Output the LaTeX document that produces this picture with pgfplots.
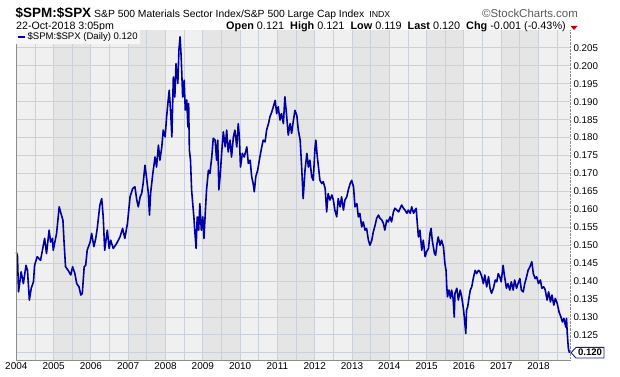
\documentclass[border=0pt]{standalone}
\usepackage{fontspec}
\setmainfont{Liberation Sans}
\usepackage{pgfplots}
\pgfplotsset{compat=1.18}
\definecolor{bgA}{HTML}{F0F0F0}
\definecolor{bgB}{HTML}{E5E5E5}
\definecolor{gridc}{HTML}{CAD1DA}
\definecolor{linec}{HTML}{0000A0}
\definecolor{bord}{HTML}{8C8C8C}
\definecolor{boxc}{HTML}{1A1A8C}
\begin{document}
\begin{tikzpicture}[x=1bp,y=1bp]
% header
\node[anchor=base west,inner sep=0pt] at (15.5,359) {{\bfseries\fontsize{13.5}{14}\selectfont \$SPM:\$SPX}\hspace{3bp}{\fontsize{10.4}{11}\selectfont S\&P 500 Materials Sector Index/S\&P 500 Large Cap Index}\hspace{5bp}{\fontsize{8.8}{9}\selectfont INDX}};
\node[anchor=base east,inner sep=0pt,text=black!65] at (578,359) {\fontsize{11.5}{12}\selectfont ©StockCharts.com};
\node[anchor=base west,inner sep=0pt] at (16,346.5) {\fontsize{10.7}{11}\selectfont 22-Oct-2018 3:05pm};
\node[anchor=base east,inner sep=0pt] at (566,346.5) {\fontsize{10.9}{11}\selectfont \textbf{Open} 0.121\ \ \textbf{High} 0.121\ \ \textbf{Low} 0.119\ \ \textbf{Last} 0.120\ \ \textbf{Chg} -0.001 (-0.43\%)};
\fill[red!75!black] (570.5,350) -- (577.5,350) -- (574,346) -- cycle;
\begin{axis}[
  set layers,
  at={(16.3bp,16bp)}, anchor=south west,
  scale only axis, width=553.7bp, height=330bp,
  xmin=2004, xmax=2018.844, ymin=0.118, ymax=0.210,
  axis background/.style={fill=bgA},
  axis line style={draw=none},
  xtick={2004,2005,2006,2007,2008,2009,2010,2011,2012,2013,2014,2015,2016,2017,2018},
  xticklabels={2004,2005,2006,2007,2008,2009,2010,2011,2012,2013,2014,2015,2016,2017,2018},
  minor xtick={2004.5,2005.5,2006.5,2007.5,2008.5,2009.5,2010.5,2011.5,2012.5,2013.5,2014.5,2015.5,2016.5,2017.5,2018.5},
  ytick={0.120,0.125,0.130,0.135,0.140,0.145,0.150,0.155,0.160,0.165,0.170,0.175,0.180,0.185,0.190,0.195,0.200,0.205},
  yticklabels={,0.125,0.130,0.135,0.140,0.145,0.150,0.155,0.160,0.165,0.170,0.175,0.180,0.185,0.190,0.195,0.200,0.205},
  yticklabel pos=right,
  grid=both,
  major grid style={gridc, line width=0.9bp},
  minor grid style={gridc, line width=0.9bp},
  major tick length=0pt, minor tick length=0pt,
  xticklabel style={font=\fontsize{10}{10}\selectfont, anchor=north, yshift=1bp},
  yticklabel style={font=\fontsize{9.8}{10}\selectfont, anchor=west, xshift=0bp},
  legend style={at={(0,1)}, anchor=north west, draw=none, fill=white!40!bgA, inner sep=0.6bp, font=\fontsize{9.6}{10}\selectfont, legend cell align=left},
  legend image code/.code={\draw[linec, line width=2bp] (0bp,0bp) -- (6.5bp,0bp);},
  clip=false,
]
\addplot[fill=bgB, draw=none, on layer=axis background, forget plot] coordinates {(2005,0.118) (2005,0.210) (2006,0.210) (2006,0.118)} -- cycle;
\addplot[fill=bgB, draw=none, on layer=axis background, forget plot] coordinates {(2007,0.118) (2007,0.210) (2008,0.210) (2008,0.118)} -- cycle;
\addplot[fill=bgB, draw=none, on layer=axis background, forget plot] coordinates {(2009,0.118) (2009,0.210) (2010,0.210) (2010,0.118)} -- cycle;
\addplot[fill=bgB, draw=none, on layer=axis background, forget plot] coordinates {(2011,0.118) (2011,0.210) (2012,0.210) (2012,0.118)} -- cycle;
\addplot[fill=bgB, draw=none, on layer=axis background, forget plot] coordinates {(2013,0.118) (2013,0.210) (2014,0.210) (2014,0.118)} -- cycle;
\addplot[fill=bgB, draw=none, on layer=axis background, forget plot] coordinates {(2015,0.118) (2015,0.210) (2016,0.210) (2016,0.118)} -- cycle;
\addplot[fill=bgB, draw=none, on layer=axis background, forget plot] coordinates {(2017,0.118) (2017,0.210) (2018,0.210) (2018,0.118)} -- cycle;
\addplot[linec, line width=1.6bp, line join=round] coordinates {
(2004.00,0.1480) (2004.03,0.1472) (2004.06,0.1370) (2004.13,0.1426) (2004.19,0.1393) (2004.26,0.1444) (2004.30,0.1430) (2004.35,0.1347) (2004.40,0.1380) (2004.46,0.1398) (2004.49,0.1444) (2004.56,0.1468) (2004.65,0.1458) (2004.70,0.1486) (2004.76,0.1519) (2004.81,0.1477) (2004.88,0.1542) (2004.92,0.1509) (2004.97,0.1519) (2004.99,0.1486)
(2005.08,0.1533) (2005.15,0.1607) (2005.21,0.1584) (2005.25,0.1570) (2005.28,0.1509) (2005.32,0.1440) (2005.39,0.1430) (2005.46,0.1417) (2005.51,0.1440) (2005.57,0.1421) (2005.62,0.1393) (2005.68,0.1384) (2005.73,0.1361) (2005.77,0.1366) (2005.82,0.1440) (2005.86,0.1444) (2005.90,0.1486) (2005.98,0.1509)
(2006.02,0.1533) (2006.08,0.1496) (2006.13,0.1519) (2006.17,0.1547) (2006.24,0.1612) (2006.29,0.1630) (2006.33,0.1579) (2006.37,0.1486) (2006.44,0.1542) (2006.49,0.1491) (2006.53,0.1514) (2006.60,0.1491) (2006.69,0.1505) (2006.78,0.1523) (2006.85,0.1547) (2006.91,0.1519) (2006.98,0.1561)
(2007.05,0.1635) (2007.12,0.1658) (2007.18,0.1663) (2007.23,0.1626) (2007.27,0.1607) (2007.32,0.1635) (2007.36,0.1644) (2007.40,0.1672) (2007.45,0.1723) (2007.50,0.1681) (2007.54,0.1644) (2007.57,0.1584) (2007.60,0.1644) (2007.66,0.1700) (2007.72,0.1746) (2007.76,0.1718) (2007.81,0.1779) (2007.85,0.1737) (2007.90,0.1774) (2007.94,0.1821) (2007.99,0.1802)
(2008.03,0.1858) (2008.08,0.1913) (2008.10,0.1932) (2008.14,0.1867) (2008.17,0.1802) (2008.21,0.1969) (2008.25,0.1913) (2008.28,0.2006) (2008.33,0.1951) (2008.36,0.2044) (2008.39,0.2081) (2008.42,0.2025) (2008.46,0.1913) (2008.50,0.1960) (2008.53,0.1877) (2008.57,0.1905) (2008.60,0.1830) (2008.62,0.1895) (2008.64,0.1765) (2008.67,0.1737) (2008.70,0.1653) (2008.73,0.1616) (2008.76,0.1579) (2008.79,0.1533) (2008.82,0.1491) (2008.85,0.1579) (2008.89,0.1542) (2008.92,0.1616) (2008.96,0.1542)
(2009.00,0.1579) (2009.03,0.1519) (2009.07,0.1598) (2009.10,0.1654) (2009.15,0.1709) (2009.19,0.1700) (2009.24,0.1746) (2009.28,0.1798) (2009.33,0.1793) (2009.37,0.1737) (2009.40,0.1793) (2009.43,0.1654) (2009.47,0.1700) (2009.51,0.1765) (2009.55,0.1816) (2009.60,0.1774) (2009.64,0.1821) (2009.68,0.1760) (2009.73,0.1793) (2009.77,0.1746) (2009.82,0.1802) (2009.86,0.1821) (2009.91,0.1774) (2009.95,0.1839) (2009.98,0.1802)
(2010.01,0.1718) (2010.06,0.1756) (2010.11,0.1746) (2010.18,0.1774) (2010.22,0.1728) (2010.27,0.1737) (2010.31,0.1691) (2010.35,0.1672) (2010.38,0.1649) (2010.42,0.1691) (2010.47,0.1709) (2010.53,0.1746) (2010.58,0.1774) (2010.62,0.1793) (2010.67,0.1788) (2010.71,0.1821) (2010.76,0.1839) (2010.80,0.1858) (2010.85,0.1872) (2010.89,0.1886) (2010.94,0.1904) (2010.98,0.1867)
(2011.02,0.1886) (2011.07,0.1849) (2011.11,0.1867) (2011.16,0.1839) (2011.20,0.1914) (2011.25,0.1858) (2011.29,0.1807) (2011.34,0.1839) (2011.38,0.1812) (2011.43,0.1849) (2011.47,0.1876) (2011.52,0.1862) (2011.56,0.1821) (2011.61,0.1793) (2011.65,0.1718) (2011.69,0.1630) (2011.74,0.1709) (2011.79,0.1756) (2011.83,0.1718) (2011.87,0.1737) (2011.92,0.1691) (2011.96,0.1681)
(2012.01,0.1774) (2012.03,0.1793) (2012.07,0.1746) (2012.11,0.1709) (2012.14,0.1681) (2012.19,0.1672) (2012.23,0.1677) (2012.28,0.1658) (2012.32,0.1593) (2012.36,0.1644) (2012.41,0.1626) (2012.46,0.1640) (2012.50,0.1626) (2012.54,0.1598) (2012.59,0.1579) (2012.63,0.1630) (2012.68,0.1607) (2012.72,0.1635) (2012.77,0.1598) (2012.81,0.1626) (2012.86,0.1635) (2012.90,0.1654) (2012.95,0.1672) (2012.99,0.1681)
(2013.04,0.1663) (2013.08,0.1607) (2013.13,0.1616) (2013.17,0.1579) (2013.21,0.1589) (2013.26,0.1551) (2013.30,0.1565) (2013.35,0.1542) (2013.39,0.1547) (2013.44,0.1514) (2013.48,0.1500) (2013.53,0.1514) (2013.57,0.1537) (2013.62,0.1556) (2013.66,0.1575) (2013.71,0.1584) (2013.75,0.1575) (2013.80,0.1570) (2013.84,0.1561) (2013.88,0.1542) (2013.93,0.1570) (2013.97,0.1565)
(2014.02,0.1579) (2014.06,0.1565) (2014.11,0.1593) (2014.15,0.1603) (2014.20,0.1598) (2014.25,0.1593) (2014.29,0.1603) (2014.33,0.1612) (2014.38,0.1603) (2014.42,0.1598) (2014.47,0.1589) (2014.51,0.1598) (2014.56,0.1589) (2014.60,0.1607) (2014.65,0.1589) (2014.69,0.1598) (2014.72,0.1603) (2014.75,0.1561) (2014.78,0.1523) (2014.82,0.1542) (2014.87,0.1486) (2014.91,0.1514) (2014.96,0.1468)
(2015.00,0.1482) (2015.05,0.1491) (2015.09,0.1533) (2015.12,0.1547) (2015.15,0.1514) (2015.21,0.1477) (2015.24,0.1472) (2015.28,0.1505) (2015.31,0.1523) (2015.36,0.1500) (2015.40,0.1514) (2015.45,0.1496) (2015.49,0.1449) (2015.52,0.1430) (2015.54,0.1384) (2015.56,0.1356) (2015.60,0.1375) (2015.64,0.1352) (2015.67,0.1375) (2015.71,0.1352) (2015.74,0.1300) (2015.76,0.1366) (2015.81,0.1380) (2015.85,0.1347) (2015.90,0.1375) (2015.94,0.1356) (2015.98,0.1328)
(2016.01,0.1300) (2016.05,0.1254) (2016.07,0.1319) (2016.10,0.1328) (2016.14,0.1356) (2016.17,0.1375) (2016.21,0.1384) (2016.25,0.1407) (2016.30,0.1430) (2016.34,0.1421) (2016.39,0.1430) (2016.43,0.1426) (2016.48,0.1412) (2016.52,0.1393) (2016.56,0.1417) (2016.61,0.1384) (2016.66,0.1412) (2016.70,0.1380) (2016.74,0.1366) (2016.79,0.1380) (2016.84,0.1403) (2016.88,0.1398) (2016.92,0.1421) (2016.96,0.1412)
(2017.00,0.1398) (2017.05,0.1444) (2017.09,0.1412) (2017.14,0.1380) (2017.18,0.1393) (2017.23,0.1375) (2017.27,0.1398) (2017.32,0.1375) (2017.36,0.1403) (2017.41,0.1380) (2017.45,0.1393) (2017.50,0.1407) (2017.54,0.1375) (2017.59,0.1370) (2017.63,0.1393) (2017.68,0.1412) (2017.72,0.1430) (2017.77,0.1440) (2017.82,0.1454) (2017.86,0.1421) (2017.91,0.1407) (2017.95,0.1412)
(2018.00,0.1393) (2018.05,0.1403) (2018.09,0.1380) (2018.14,0.1384) (2018.18,0.1375) (2018.23,0.1347) (2018.27,0.1370) (2018.32,0.1342) (2018.36,0.1361) (2018.41,0.1333) (2018.45,0.1352) (2018.50,0.1338) (2018.55,0.1314) (2018.60,0.1300) (2018.64,0.1286) (2018.68,0.1296) (2018.73,0.1272) (2018.75,0.1296) (2018.77,0.1254) (2018.80,0.1212) (2018.83,0.1200)
};
\addlegendentry{\$SPM:\$SPX (Daily) 0.120}
\draw[bord] (rel axis cs:0,1) -- (rel axis cs:0,0) -- (rel axis cs:1,0);
\draw[bord, densely dotted] (rel axis cs:1,0) -- (rel axis cs:1,1);
\end{axis}
% last value box
\draw[boxc, fill=white, line width=0.9bp] (571,23.3) -- (576,28.6) -- (604,28.6) -- (604,18) -- (576,18) -- cycle;
\node[anchor=center, inner sep=0pt] at (590,23.3) {\bfseries\fontsize{9.6}{10}\selectfont 0.120};
\pgfresetboundingbox
\useasboundingbox (0,0) rectangle (620,376);
\end{tikzpicture}
\end{document}
